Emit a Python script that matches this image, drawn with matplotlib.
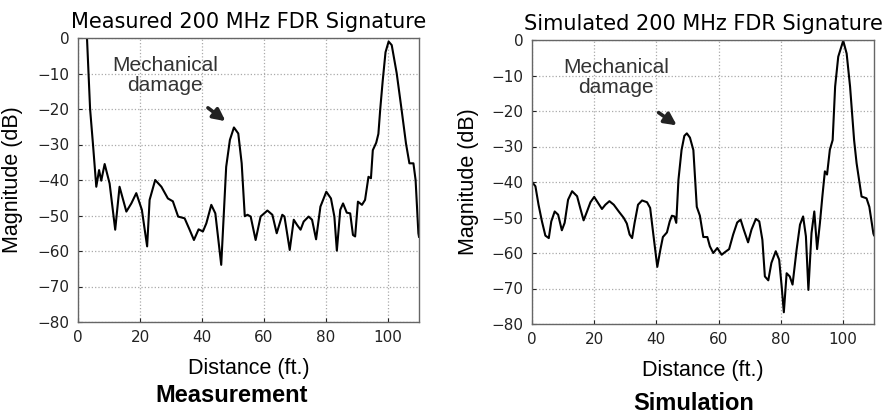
import matplotlib.pyplot as plt

# Measured FDR signature (distance in ft, magnitude in dB)
meas_x = [2.7, 2.9, 3.9, 4.8, 5.9, 6.8, 7.5, 8.6, 10.2, 12.0, 13.4, 15.6, 17.2, 18.8,
          20.6, 22.3, 23.1, 24.9, 26.9, 29.0, 30.6, 32.3, 34.4, 36.0, 37.4, 38.9,
          40.3, 41.4, 43.0, 44.3, 46.2, 47.8, 49.0, 50.3, 51.7, 52.8, 53.8, 54.7,
          55.7, 57.3, 58.9, 61.1, 62.7, 64.1, 65.9, 66.6, 68.3, 69.6, 70.7, 71.8,
          72.8, 74.4, 75.5, 76.8, 78.2, 80.1, 81.6, 82.7, 83.5, 84.6, 85.5, 86.7,
          87.8, 88.7, 89.4, 90.3, 91.6, 92.6, 93.7, 94.5, 95.1, 96.2, 96.9, 97.5,
          98.3, 99.2, 100.2, 101.2, 102.8, 104.4, 105.8, 106.9, 108.2, 108.9, 109.8, 110.0]
meas_y = [3, 0, -20, -29.6, -41.9, -37.2, -40.2, -35.5, -41, -54, -41.9, -48.9, -46.6, -43.7,
          -48.4, -58.7, -45.6, -40, -41.9, -45.2, -46, -50.3, -50.8, -54, -56.9, -53.9,
          -54.5, -52.2, -47, -49.4, -63.9, -36.3, -28.7, -25.2, -26.9, -35.3, -50.2, -49.8,
          -50.3, -56.9, -50.3, -48.6, -49.8, -55, -49.8, -50.3, -59.7, -51.2, -52.7, -54,
          -51.7, -50.3, -51.2, -56.7, -47.5, -43.3, -45.2, -50.3, -59.9, -48.4, -46.6, -49.2,
          -49.4, -55.5, -55.9, -46.1, -47, -45.6, -39.1, -39.5, -31.6, -29.5, -27, -20,
          -12, -4, -1, -2, -9.9, -20.3, -29.7, -35.3, -35.3, -40, -55, -56]

# Simulated FDR signature
sim_x = [0.0, 1.1, 2.1, 3.2, 4.3, 5.4, 6.2, 7.3, 8.4, 9.6, 10.5, 11.6, 12.9, 14.5,
         15.5, 16.6, 17.7, 18.8, 20.0, 21.1, 22.5, 23.6, 24.9, 26.3, 27.9, 29.5,
         30.5, 31.4, 32.2, 33.0, 34.1, 35.4, 37.0, 38.0, 39.1, 40.3, 41.3, 42.1,
         43.4, 44.3, 45.0, 45.8, 46.4, 47.1, 48.1, 49.0, 49.8, 50.8, 51.9, 53.0,
         54.0, 55.1, 56.4, 57.2, 58.3, 59.6, 61.0, 62.0, 63.4, 64.7, 66.0, 67.1,
         68.1, 69.5, 70.6, 72.0, 73.1, 74.1, 74.9, 76.0, 77.0, 78.4, 79.5, 80.3,
         81.0, 81.9, 82.9, 83.8, 85.1, 86.2, 87.2, 88.1, 88.9, 89.9, 90.8, 91.7,
         92.6, 93.4, 94.2, 94.9, 95.8, 96.7, 97.5, 98.5, 100.1, 101.2, 102.3, 103.6,
         104.4, 106.0, 107.6, 108.5, 109.8, 110.0]
sim_y = [-40, -41.2, -46.4, -51.1, -55.1, -55.8, -51.1, -48.3, -49.2, -53.6, -51.5, -45, -42.6, -44,
         -47.3, -50.8, -48.3, -45.7, -44.2, -45.7, -47.6, -46.4, -45.4, -46.4, -48.3, -50.1,
         -51.7, -54.8, -55.8, -51.5, -46.4, -45.2, -45.7, -47.3, -55.3, -63.9, -59, -55.5,
         -54.2, -51.1, -49.5, -49.7, -51.5, -39.4, -31, -27, -26.3, -27.5, -31, -47,
         -49.5, -55.5, -55.5, -58.1, -60, -58.6, -60.5, -59.8, -58.9, -54.8, -51.4, -50.6,
         -53.4, -57, -53.4, -50.4, -51.1, -56.3, -66.6, -67.7, -62.8, -59.5, -61.9, -69.4,
         -76.7, -65.7, -66.6, -68.9, -59.1, -52, -49.7, -55.3, -70.4, -54.4, -48.3, -58.9,
         -51.6, -44, -37, -37.9, -30.9, -28.2, -13.1, -4.7, -0.2, -3.8, -13.1, -28.2,
         -34.7, -44.1, -44.6, -47, -54.5, -55]

x_ticks = [0, 20, 40, 60, 80, 100]
y_ticks = [0, -10, -20, -30, -40, -50, -60, -70, -80]

W, H = 882, 418
fig = plt.figure(figsize=(W / 100, H / 100), dpi=100)

panels = [
    dict(x=meas_x, y=meas_y, box=(78, 322, 341, 284), title='Measured 200 MHz FDR Signature',
         caption='Measurement', cap_xy=(232, 395), ylab_x=23,
         text_xy=(28, -10.5), arrow=((41.2, -19.2), (48.3, -23.9))),
    dict(x=sim_x, y=sim_y, box=(532, 324, 342, 284), title='Simulated 200 MHz FDR Signature',
         caption='Simulation', cap_xy=(694, 404), ylab_x=479,
         text_xy=(27, -10.5), arrow=((40.0, -20.0), (47.3, -24.5))),
]

for p in panels:
    left, bottom, w, h = p['box']
    ax = fig.add_axes([left / W, (H - bottom) / H, w / W, h / H])
    ax.plot(p['x'], p['y'], color='black', lw=1.5)
    ax.set_xlim(0, 110)
    ax.set_ylim(-80, 0)
    ax.set_xticks(x_ticks)
    ax.set_yticks(y_ticks)
    ax.grid(True, linestyle=':', color='#aaaaaa', lw=0.9)
    ax.tick_params(direction='in', length=3, labelsize=11, colors='#222222', pad=6)
    for s in ax.spines.values():
        s.set_color('#666666')
        s.set_linewidth(1.0)
    ax.set_title(p['title'], fontsize=15, pad=7)
    ax.set_xlabel('Distance (ft.)', fontsize=15.5, family='Liberation Sans')
    ax.set_ylabel('Magnitude (dB)', fontsize=15.5, family='Liberation Sans')
    ax.xaxis.set_label_coords(0.5, -0.127)
    ax.yaxis.set_label_coords((p['ylab_x'] - left) / w, 0.5)
    ax.text(p['text_xy'][0], p['text_xy'][1], 'Mechanical\ndamage', ha='center', va='center',
            fontsize=15, family='Liberation Sans', color='#333333', linespacing=1.05)
    (tx, ty), (hx, hy) = p['arrow']
    ax.annotate('', xy=(hx, hy), xytext=(tx, ty),
                arrowprops=dict(arrowstyle='-|>', color='#222222', lw=2.6, mutation_scale=18))
    fig.text(p['cap_xy'][0] / W, 1 - p['cap_xy'][1] / H, p['caption'], ha='center', va='center',
             fontsize=17, fontweight='bold', family='Liberation Sans')

plt.savefig('out.png', dpi=100)
